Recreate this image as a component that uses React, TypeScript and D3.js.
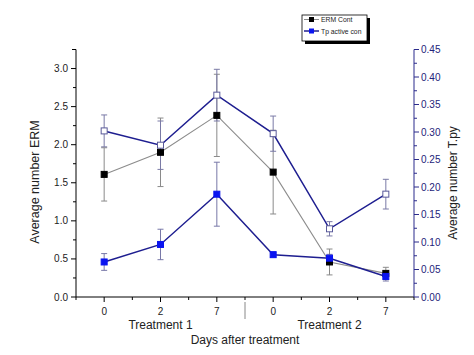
import React from "react";
import * as d3 from "d3";

const dayLabels = ["0", "2", "7", "0", "2", "7"];
const groupLabels = ["Treatment 1", "Treatment 2"];
const ermCont = [1.61, 1.9, 2.385, 1.64, 0.46, 0.31];
const ermContErr = [0.35, 0.45, 0.54, 0.55, 0.17, 0.08];
const tpActive = [0.46, 0.69, 1.35, 0.556, 0.51, 0.27];
const tpActiveErr = [0.11, 0.2, 0.42, 0.03, 0.05, 0.06];
const tpy = [0.302, 0.276, 0.367, 0.297, 0.124, 0.187];
const tpyErr = [0.029, 0.044, 0.047, 0.032, 0.013, 0.027];
const leftTicks = [0, 0.5, 1, 1.5, 2, 2.5, 3];
const rightTicks = [0, 0.05, 0.1, 0.15, 0.2, 0.25, 0.3, 0.35, 0.4, 0.45];

const W = 474;
const H = 355;
const FONT = "'Liberation Sans', Arial, sans-serif";

export default function App() {
  const x = d3.scaleLinear().domain([0.5, 6.5]).range([76, 414]);
  const yL = d3.scaleLinear().domain([0, 3.25]).range([297, 49.5]);
  const yR = d3.scaleLinear().domain([0, 0.45]).range([297, 49.5]);
  const idx = dayLabels.map((_, i) => i + 1);

  const line = (vals: number[], ys: d3.ScaleLinear<number, number>) =>
    d3.line<number>().x((_, i) => x(i + 1)).y((v) => ys(v))(vals) || "";

  const errBars = (vals: number[], errs: number[], ys: d3.ScaleLinear<number, number>, color: string, key: string) =>
    vals.map((v, i) => {
      const cx = x(i + 1);
      const t = ys(v + errs[i]);
      const b = ys(v - errs[i]);
      return (
        <g key={key + i} stroke={color} strokeWidth={1}>
          <line x1={cx} x2={cx} y1={t} y2={b} />
          <line x1={cx - 3} x2={cx + 3} y1={t} y2={t} />
          <line x1={cx - 3} x2={cx + 3} y1={b} y2={b} />
        </g>
      );
    });

  const squares = (vals: number[], ys: d3.ScaleLinear<number, number>, fill: string, stroke: string, key: string) =>
    vals.map((v, i) => (
      <rect key={key + i} x={x(i + 1) - 3} y={ys(v) - 3} width={6} height={6} fill={fill} stroke={stroke} strokeWidth={1} />
    ));

  const leftMinor = d3.range(0.25, 3.26, 0.5);
  const rightMinor = d3.range(0.025, 0.45, 0.05);
  const xMinor = d3.range(0.5, 6.6, 1);

  return (
    <svg width={W} height={H} style={{ position: "absolute", left: 0, top: 0, background: "#fff" }} fontFamily={FONT}>
      <rect width={W} height={H} fill="#fff" />
      {/* left axis */}
      <g stroke="#000" strokeWidth={1}>
        <line x1={76} x2={76} y1={49.5} y2={297} />
        <line x1={72} x2={76} y1={49.5} y2={49.5} />
        {leftTicks.map((t) => (
          <line key={"lt" + t} x1={71} x2={76} y1={yL(t)} y2={yL(t)} />
        ))}
        {leftMinor.map((t) => (
          <line key={"lm" + t} x1={73} x2={76} y1={yL(t)} y2={yL(t)} />
        ))}
      </g>
      {leftTicks.map((t) => (
        <text key={"ll" + t} x={68} y={yL(t) + 3.5} fontSize={10} textAnchor="end" fill="#222">
          {d3.format(".1f")(t)}
        </text>
      ))}
      <text transform={`translate(39,182) rotate(-90)`} fontSize={12.5} textAnchor="middle" fill="#222">
        Average number ERM
      </text>
      {/* bottom axis */}
      <g stroke="#000" strokeWidth={1}>
        <line x1={76} x2={414} y1={297} y2={297} />
        {idx.map((i) => (
          <line key={"bt" + i} x1={x(i)} x2={x(i)} y1={297} y2={302} />
        ))}
        {xMinor.map((t) => (
          <line key={"bm" + t} x1={x(t)} x2={x(t)} y1={297} y2={300} />
        ))}
      </g>
      <line x1={x(3.5)} x2={x(3.5)} y1={302} y2={319} stroke="#888" strokeWidth={1} />
      {dayLabels.map((d, i) => (
        <text key={"bl" + i} x={x(i + 1)} y={315} fontSize={10} textAnchor="middle" fill="#222">
          {d}
        </text>
      ))}
      <text x={x(2)} y={329} fontSize={12} textAnchor="middle" fill="#222">
        {groupLabels[0]}
      </text>
      <text x={x(5)} y={329} fontSize={12} textAnchor="middle" fill="#222">
        {groupLabels[1]}
      </text>
      <text x={(76 + 414) / 2} y={344} fontSize={12} textAnchor="middle" fill="#222">
        Days after treatment
      </text>
      {/* right axis */}
      <g stroke="#2b2b8c" strokeWidth={1}>
        <line x1={414} x2={414} y1={49.5} y2={297} />
        {rightTicks.map((t) => (
          <line key={"rt" + t} x1={414} x2={419} y1={yR(t)} y2={yR(t)} />
        ))}
        {rightMinor.map((t) => (
          <line key={"rm" + t} x1={414} x2={417} y1={yR(t)} y2={yR(t)} />
        ))}
      </g>
      {rightTicks.map((t) => (
        <text key={"rl" + t} x={421} y={yR(t) + 3.5} fontSize={10} fill="#23237a">
          {d3.format(".2f")(t)}
        </text>
      ))}
      <text transform={`translate(457,183) rotate(-90)`} fontSize={12} textAnchor="middle" fill="#222">
        Average number T.py
      </text>
      {/* error bars */}
      {errBars(ermCont, ermContErr, yL, "#8a8a8a", "ee")}
      {errBars(tpActive, tpActiveErr, yL, "#7878a8", "te")}
      {errBars(tpy, tpyErr, yR, "#7a7aa6", "pe")}
      {/* lines */}
      <path d={line(ermCont, yL)} fill="none" stroke="#8c8c8c" strokeWidth={1.1} />
      <path d={line(tpy, yR)} fill="none" stroke="#1e1e90" strokeWidth={1.5} />
      <path d={line(tpActive, yL)} fill="none" stroke="#1e1e90" strokeWidth={1.5} />
      {squares(ermCont, yL, "#000", "#000", "es")}
      {squares(tpy, yR, "#fff", "#5a5a9a", "ps")}
      {squares(tpActive, yL, "#0a14f0", "#0a14f0", "ts")}
      {/* legend */}
      <rect x={305} y={18} width={65} height={26} fill="#000" />
      <rect x={302} y={15} width={65} height={26} fill="#fff" stroke="#000" strokeWidth={0.8} />
      <line x1={304} x2={319} y1={19.5} y2={19.5} stroke="#8c8c8c" strokeWidth={1} />
      <rect x={309} y={17} width={5} height={5} fill="#000" />
      <text x={321} y={22} fontSize={6.8} fill="#222">ERM Cont</text>
      <line x1={304} x2={319} y1={31} y2={31} stroke="#1e1e90" strokeWidth={1.5} />
      <rect x={309} y={28.5} width={5} height={5} fill="#0a14f0" />
      <text x={321} y={33.5} fontSize={6.8} fill="#222">Tp active con</text>
    </svg>
  );
}
